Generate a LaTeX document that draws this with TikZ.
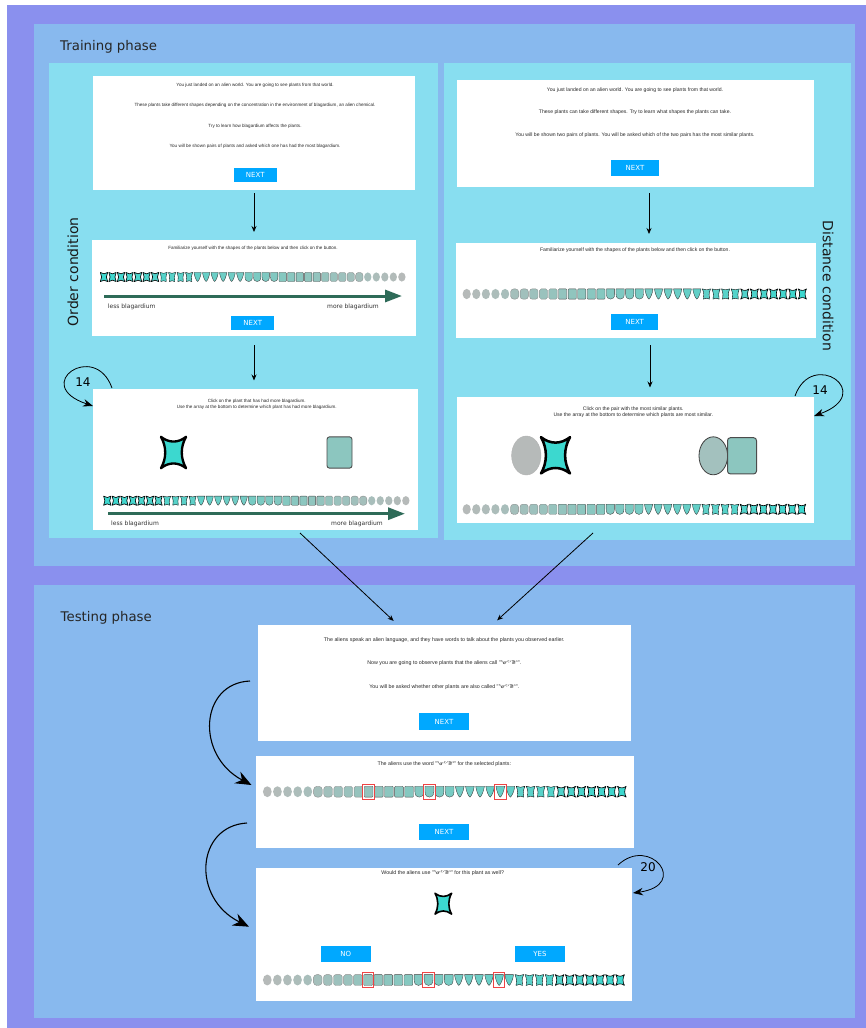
\documentclass[tikz,border=0pt]{standalone}
\usepackage{fontspec}
\setmainfont{DejaVu Sans}
\newfontfamily\screenfont{Liberation Sans}
\newfontfamily\alienfont{DejaVu Sans}
\usetikzlibrary{arrows.meta}

\definecolor{outerbg}{HTML}{8A90EE}
\definecolor{phasebg}{HTML}{88B9EE}
\definecolor{condbg}{HTML}{88DEF0}
\definecolor{btnblue}{HTML}{00A8FF}
\definecolor{blaggreen}{HTML}{2E6B58}
\definecolor{plantG}{HTML}{B6BAB9}
\definecolor{plantM}{HTML}{8CC6BF}
\definecolor{plantT}{HTML}{3CD8CF}
\definecolor{selred}{HTML}{EE4444}

\newcommand{\alienword}{"{\alienfont ᕐᓂᑦᐟᕒᐣ}"}

% one plant: centre x, centre y, stage 0..35, half width, outline
\newcommand{\plant}[5]{%
  \pgfmathtruncatemacro\plantkind{(#3>=5)+(#3>=10)+(#3>=15)+(#3>=19)+(#3>=25)+(#3>=29)}%
  \ifnum#3<13 \pgfmathsetmacro\plantmix{#3*100/12}\colorlet{plantcol}{plantM!\plantmix!plantG}%
  \else \pgfmathsetmacro\plantmix{(#3-12)*100/23}\colorlet{plantcol}{plantT!\plantmix!plantM}\fi
  \pgfmathsetmacro\plantround{max(0.2,0.8-0.12*(#3-5))*#4}%
  \pgfmathsetlengthmacro\starline{1.8*#5}%
  \begin{scope}[shift={(#1,#2)},xscale=#4,yscale=#4,line join=round]
  \ifcase\plantkind
    \fill[plantcol] (0,0) ellipse (1 and 1.25);
  \or
    \draw[fill=plantcol,draw=black!45,line width=#5,rounded corners=\plantround pt] (-1,-1.25) rectangle (1,1.25);
  \or
    \draw[fill=plantcol,draw=black!70,line width=#5,rounded corners=\plantround pt] (-1,-1.25) rectangle (1,1.25);
  \or
    \draw[fill=plantcol,draw=black!75,line width=#5] (-1,-1.25) -- (1,-1.25) -- (1,0) .. controls (1,0.9) and (0.55,1.25) .. (0,1.25) .. controls (-0.55,1.25) and (-1,0.9) .. (-1,0) -- cycle;
  \or
    \draw[fill=plantcol,draw=black!80,line width=#5] (-1,-1.25) -- (1,-1.25) .. controls (0.85,-0.1) and (0.35,1.05) .. (0,1.25) .. controls (-0.35,1.05) and (-0.85,-0.1) .. (-1,-1.25) -- cycle;
  \or
    \draw[fill=plantcol,draw=black,line width=#5] (-1,-1.25) .. controls (-0.4,-0.95) and (0.4,-0.95) .. (1,-1.25) .. controls (0.6,-0.3) and (0.55,0.5) .. (0.75,1.25) .. controls (0.3,0.95) and (-0.3,0.95) .. (-0.75,1.25) .. controls (-0.55,0.5) and (-0.6,-0.3) .. (-1,-1.25) -- cycle;
  \or
    \draw[fill=plantcol,draw=black,line width=\starline] (-1,-1.25) .. controls (-0.35,-0.75) and (0.35,-0.75) .. (1,-1.25) .. controls (0.55,-0.45) and (0.55,0.45) .. (1,1.25) .. controls (0.35,0.75) and (-0.35,0.75) .. (-1,1.25) .. controls (-0.55,0.45) and (-0.55,-0.45) .. (-1,-1.25) -- cycle;
  \fi
  \end{scope}}

% the 36 plants in a row: first x, spacing, y, reversed (1/0), half width
\newcommand{\plantrow}[5]{%
  \foreach \k in {0,...,35}{
    \pgfmathsetmacro\plantx{#1+#2*\k}
    \ifnum#4=1 \pgfmathtruncatemacro\kk{35-\k}\else\pgfmathtruncatemacro\kk{\k}\fi
    \plant{\plantx}{#3}{\kk}{#5}{0.35pt}
  }}

\begin{document}
\begin{tikzpicture}[x=1pt,y=-1pt,
  screen/.style={rectangle,fill=white,inner sep=0pt,outer sep=0pt},
  button/.style={rectangle,fill=btnblue,text=white,inner sep=0pt,font=\fontsize{7}{8}\selectfont,minimum width=43,minimum height=14},
  screen text/.style={font=\screenfont\fontsize{4.55}{5.6}\selectfont,text=black!85,inner sep=0pt},
  wide text/.style={screen text,font=\screenfont\fontsize{5.1}{6}\selectfont},
  test text/.style={screen text,font=\screenfont\fontsize{5.3}{6}\selectfont},
  axis label/.style={font=\fontsize{6}{7}\selectfont,text=black!80,inner sep=0pt},
  phase/.style={font=\fontsize{13.3}{15}\selectfont,text=black!85,inner sep=0pt,anchor=west},
  condition/.style={font=\fontsize{14}{16}\selectfont,text=black!90,inner sep=0pt},
  loop count/.style={font=\fontsize{12}{14}\selectfont,inner sep=0pt},
  step arrow/.style={-{Stealth[length=6pt,width=5pt]},line width=0.8pt},
  loop arrow/.style={-{Stealth[length=10pt,width=7.5pt]},line width=0.8pt},
  jump arrow/.style={-{Stealth[length=16pt,width=13pt]},line width=1.1pt},
  blag arrow/.style={-{Triangle[length=17pt,width=12pt]},line width=3pt,draw=blaggreen},
  selbox/.style={rectangle,draw=selred,line width=0.8pt,minimum width=11.5,minimum height=14.5,inner sep=0pt}]

  \useasboundingbox (0,0) rectangle (866,1028);
  \fill[outerbg] (7,5) rectangle (866,1028);
  \fill[phasebg] (34,24) rectangle (855,566);
  \fill[phasebg] (34,585) rectangle (855,1018);
  \fill[condbg] (49,63) rectangle (438,538);
  \fill[condbg] (444,63) rectangle (851,540);

  \node[phase] (train) at (60,46.7) {Training phase};
  \node[phase] (test) at (60.5,618) {Testing phase};
  \node[condition,rotate=90] (ordercond) at (73,272) {Order condition};
  \node[condition,rotate=-90] (distcond) at (828,286) {Distance condition};

  % order condition
  \node[screen,minimum width=322,minimum height=114] (o1) at (254,133) {};
  \node[screen text] at (255,85) {You just landed on an alien world. You are going to see plants from that world.};
  \node[screen text] at (255,105.7) {These plants take different shapes depending on the concentration in the environment of blagardium, an alien chemical.};
  \node[screen text] at (255,126) {Try to learn how blagardium affects the plants.};
  \node[screen text] at (255,146) {You will be shown pairs of plants and asked which one has had the most blagardium.};
  \node[button] (o1next) at (255.3,175.3) {NEXT};

  \node[screen,minimum width=324,minimum height=96] (o2) at (254,288) {};
  \node[screen text] at (253,248) {Familiarize yourself with the shapes of the plants below and then click on the button.};
  \plantrow{104}{8.51}{277}{1}{3.65}
  \coordinate (o2less) at (104,296);
  \coordinate (o2more) at (402,296);
  \draw[blag arrow] (o2less) -- (o2more);
  \node[axis label,anchor=west] at (107.7,306.7) {less blagardium};
  \node[axis label,anchor=east] at (379,306.7) {more blagardium};
  \node[button] (o2next) at (252.8,323.3) {NEXT};

  \node[screen,minimum width=325,minimum height=141] (o3) at (255.5,459) {};
  \node[screen text,align=center] at (256.7,404.5) {Click on the plant that has had more blagardium.\\Use the array at the bottom to determine which plant has had more blagardium.};
  \plant{173.5}{452.5}{35}{12.5}{1.3pt}
  \plant{339.5}{452.5}{12}{12.5}{0.9pt}
  \plantrow{107.3}{8.53}{500.7}{1}{3.65}
  \coordinate (o3less) at (108,513.7);
  \coordinate (o3more) at (405,513.7);
  \draw[blag arrow] (o3less) -- (o3more);
  \node[axis label,anchor=west] at (111,524) {less blagardium};
  \node[axis label,anchor=east] at (383,524) {more blagardium};

  \coordinate (o3loopout) at (112,388);
  \coordinate (o3loopin) at (93,406);
  \draw[loop arrow] (o3loopout) .. controls (95,340) and (30,385) .. (o3loopin);
  \node[loop count] (o3count) at (83,382) {14};

  \draw[step arrow,shorten <=3pt,shorten >=8pt] (o1.south) -- (o1.south |- o2.north);
  \draw[step arrow,shorten <=9pt,shorten >=8pt] (o2.south) -- (o2.south |- o3.north);

  % distance condition
  \node[screen,minimum width=357,minimum height=107] (d1) at (635,133.5) {};
  \node[wide text] at (635,90) {You just landed on an alien world. You are going to see plants from that world.};
  \node[wide text] at (635,112.3) {These plants can take different shapes. Try to learn what shapes the plants can take.};
  \node[wide text] at (635,135) {You will be shown two pairs of plants. You will be asked which of the two pairs has the most similar plants.};
  \node[button,minimum width=48,minimum height=15.7] (d1next) at (635,167.8) {NEXT};

  \node[screen,minimum width=360,minimum height=95] (d2) at (636,290.5) {};
  \node[wide text] at (635,250) {Familiarize yourself with the shapes of the plants below and then click on the button.};
  \plantrow{466.7}{9.59}{294}{0}{4.1}
  \node[button,minimum width=47,minimum height=16] (d2next) at (634.7,322) {NEXT};

  \node[screen,minimum width=357,minimum height=126] (d3) at (635,459.5) {};
  \node[wide text,align=center] at (633.3,412.3) {Click on the pair with the most similar plants.\\Use the array at the bottom to determine which plants are most similar.};
  \draw[fill=plantG,draw=black!30,line width=0.4pt] (526.3,455.5) ellipse (14.7 and 19.5);
  \plant{555.5}{455.3}{35}{14.5}{1.4pt}
  \draw[fill={rgb,255:red,163;green,193;blue,190},draw=black!75,line width=0.8pt] (713.3,455.8) ellipse (14.3 and 19);
  \plant{742}{455.8}{12}{14.5}{1pt}
  \plantrow{466.7}{9.57}{509.3}{0}{4.1}

  \coordinate (d3loopout) at (795,396);
  \coordinate (d3loopin) at (814,416);
  \draw[loop arrow] (d3loopout) .. controls (812,348) and (877,393) .. (d3loopin);
  \node[loop count] (d3count) at (820,390) {14};

  \draw[step arrow,shorten <=6pt,shorten >=9pt] ([xshift=14pt]d1.south) -- ([xshift=14pt]d1.south |- d2.north);
  \draw[step arrow,shorten <=7pt,shorten >=9pt] ([xshift=14pt]d2.south) -- ([xshift=14pt]d2.south |- d3.north);

  % testing phase
  \node[screen,minimum width=373,minimum height=116] (t1) at (444,683) {};
  \node[test text] at (444.3,640) {The aliens speak an alien language, and they have words to talk about the plants you observed earlier.};
  \node[test text] at (444.3,662.7) {Now you are going to observe plants that the aliens call \alienword.};
  \node[test text] at (444.3,686.7) {You will be asked whether other plants are also called \alienword.};
  \node[button,minimum width=50,minimum height=16.7] (t1next) at (444,721.7) {NEXT};

  \node[screen,minimum width=378,minimum height=92] (t2) at (444.5,802) {};
  \node[test text] at (444.3,764.3) {The aliens use the word \alienword{} for the selected plants:};
  \plantrow{267.3}{10.13}{791.7}{0}{4.35}
  \foreach \s in {10,16,23}
    \node[selbox] at (267.3+10.13*\s,791.7) {};
  \node[button,minimum width=50,minimum height=16] (t2next) at (444,832) {NEXT};

  \node[screen,minimum width=376,minimum height=133] (t3) at (443.5,934) {};
  \node[test text] at (442.7,873.3) {Would the aliens use \alienword{} for this plant as well?};
  \plant{443.3}{903.7}{35}{8.3}{0.9pt}
  \node[button,minimum width=50,minimum height=16.3] (t3no) at (345.8,954.2) {NO};
  \node[button,minimum width=50,minimum height=16.3] (t3yes) at (540,954.2) {YES};
  \plantrow{267.3}{10.08}{980}{0}{4.35}
  \foreach \s in {10,16,23}
    \node[selbox] at (267.3+10.08*\s,980) {};

  \coordinate (oout) at (300,533);
  \coordinate (dout) at (593,533);
  \draw[step arrow,shorten >=6pt] (oout) -- ([xshift=-46pt]t1.north);
  \draw[step arrow,shorten >=7pt] (dout) -- ([xshift=48pt]t1.north);

  \coordinate (t1jump) at (250,681);
  \coordinate (t2land) at (251.5,785);
  \coordinate (t2jump) at (247,823);
  \coordinate (t3land) at (249,926.7);
  \draw[jump arrow] (t1jump) .. controls (200,683) and (195,755) .. (t2land);
  \draw[jump arrow] (t2jump) .. controls (196,826) and (191,898) .. (t3land);

  \coordinate (t3loopout) at (618,865);
  \coordinate (t3loopin) at (633,893);
  \draw[loop arrow] (t3loopout) .. controls (650,835) and (690,885) .. (t3loopin);
  \node[loop count] (t3count) at (648,867) {20};
\end{tikzpicture}
\end{document}
